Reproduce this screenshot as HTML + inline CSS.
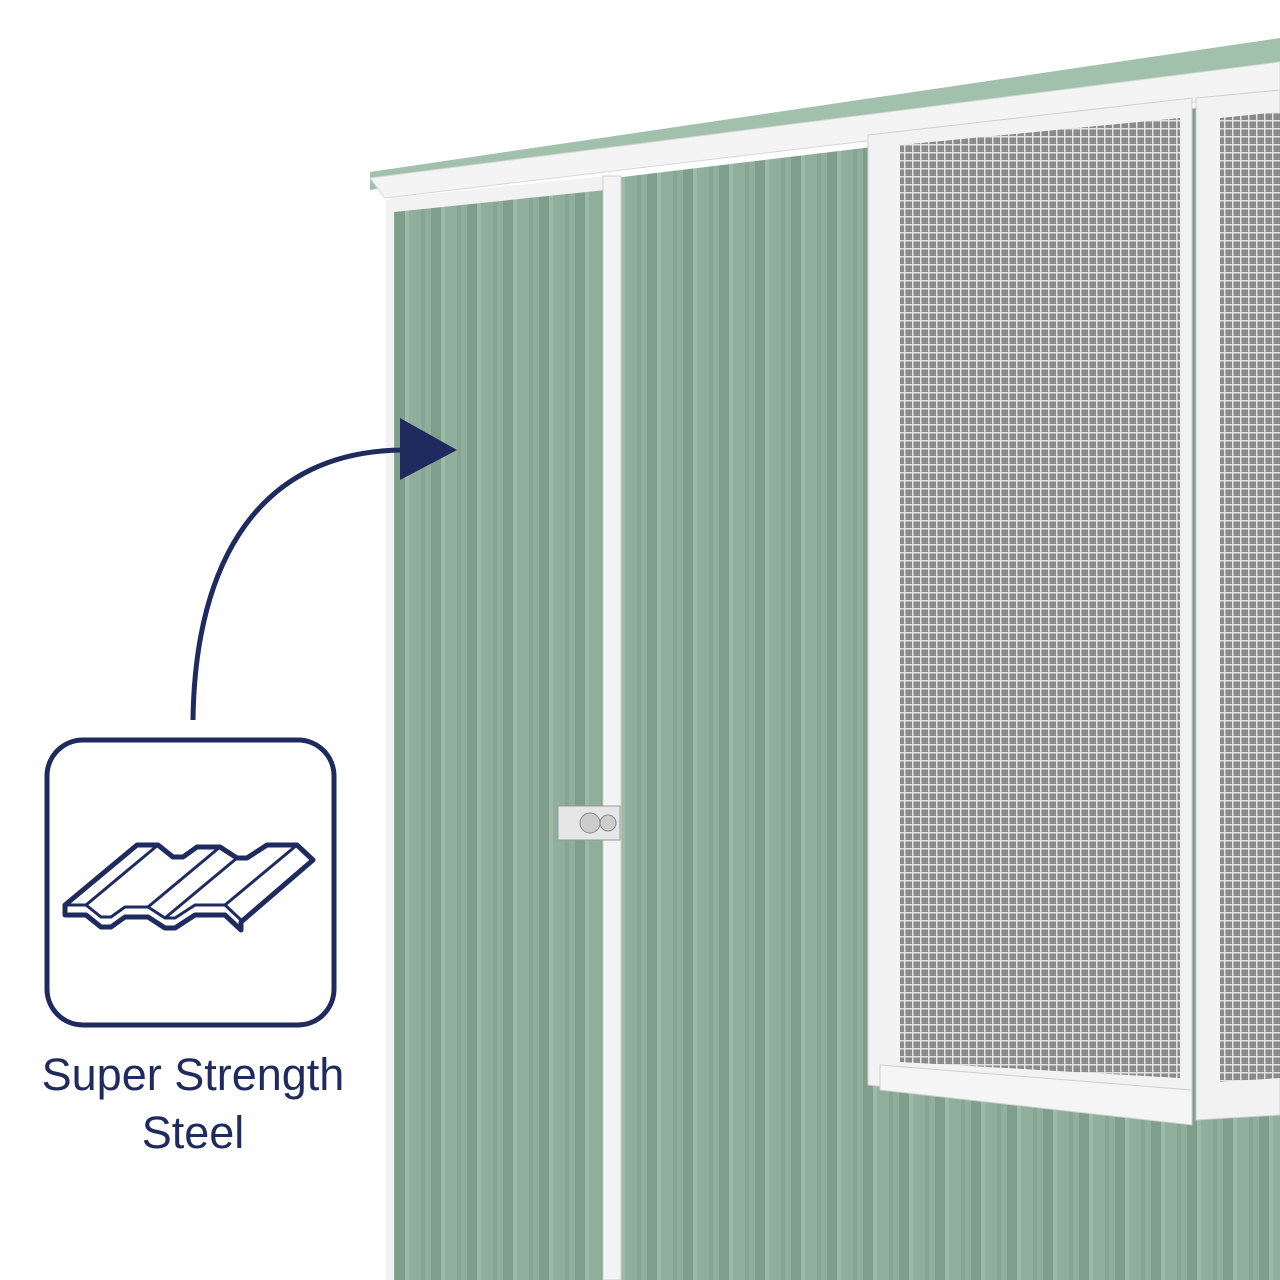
<!DOCTYPE html>
<html><head><meta charset="utf-8"><style>
html,body{margin:0;padding:0;background:#fff;}
svg{display:block;}
</style></head><body>
<svg width="1280" height="1280" viewBox="0 0 1280 1280" xmlns="http://www.w3.org/2000/svg">
<defs>
<pattern id="stripes" x="395" y="0" width="36" height="40" patternUnits="userSpaceOnUse">
<rect width="36" height="40" fill="#90ae9c"/>
<rect x="0" width="10" height="40" fill="#7f9e8b"/>
<rect x="10" width="4" height="40" fill="#9dbaa8"/>
<rect x="26" width="4" height="40" fill="#86a592"/>
</pattern>
<pattern id="mesh" x="0" y="0" width="8" height="8" patternUnits="userSpaceOnUse">
<rect width="8" height="8" fill="#8a8a8a"/>
<rect width="8" height="1.5" fill="#e2e2e2"/>
<rect width="1.5" height="8" fill="#e2e2e2"/>
</pattern>
</defs>
<rect width="1280" height="1280" fill="#fff"/>
<polygon points="370,172 1280,38 1280,62 370,190" fill="#a2c1ad"/>
<polygon points="370,178 1280,62 1280,92 385,198" fill="#f4f4f4" stroke="#d8d8d8"/>
<polygon points="390,205 1280,98 1280,1280 390,1280" fill="url(#stripes)"/>
<rect x="386" y="200" width="8" height="1080" fill="#f2f2f2"/>
<polygon points="390,198 606,176 606,190 394,212" fill="#f2f2f2"/>
<rect x="603" y="176" width="18" height="1104" fill="#f3f3f3" stroke="#cfcfcf"/>
<rect x="558" y="806" width="62" height="34" fill="#e6e6e6" stroke="#999"/>
<circle cx="590" cy="823" r="10" fill="#ccc" stroke="#888"/>
<circle cx="608" cy="823" r="8" fill="#ccc" stroke="#888"/>
<polygon points="868,135 1192,98 1192,1120 868,1085" fill="#f2f2f2" stroke="#d0d0d0"/>
<polygon points="900,145 1180,118 1180,1078 900,1062" fill="url(#mesh)"/>
<polygon points="880,1065 1192,1090 1192,1125 880,1090" fill="#f5f5f5" stroke="#cfcfcf"/>
<polygon points="1196,98 1280,90 1280,1115 1196,1120" fill="#f2f2f2" stroke="#d0d0d0"/>
<polygon points="1220,118 1280,112 1280,1078 1220,1082" fill="url(#mesh)"/>
<path d="M193,720 C195,560 260,450 405,450" fill="none" stroke="#1f2b5e" stroke-width="5"/>
<polygon points="400,418 457,450 400,480" fill="#1f2b5e"/>
<rect x="47" y="740" width="287" height="285" rx="36" fill="#fff" stroke="#1f2b5e" stroke-width="5"/>
<g fill="none" stroke="#1f2b5e" stroke-linejoin="round">
<polygon stroke-width="5" fill="#fff" points="137,845 158,845 173,857 183,857 197,847 220,847 237,858 247,858 267,845 297,845 313,860 241,922 241,930 225,915 195,915 175,928 165,928 148,917 125,917 111,927 101,927 86,915 65,915 65,905"/>
<polyline stroke-width="3" points="65,905 86,905 101,917 111,917 125,907 148,907 165,918 175,918 195,905 225,905 241,920"/>
<path stroke-width="3" d="M86,905 L158,845 M165,918 L237,858 M148,907 L220,847 M225,905 L297,845"/>
</g>
<text x="193" y="1090" font-family="Liberation Sans, sans-serif" font-size="45" fill="#1f2b5e" text-anchor="middle">Super Strength</text>
<text x="193" y="1148" font-family="Liberation Sans, sans-serif" font-size="45" fill="#1f2b5e" text-anchor="middle">Steel</text>
</svg>
</body></html>
